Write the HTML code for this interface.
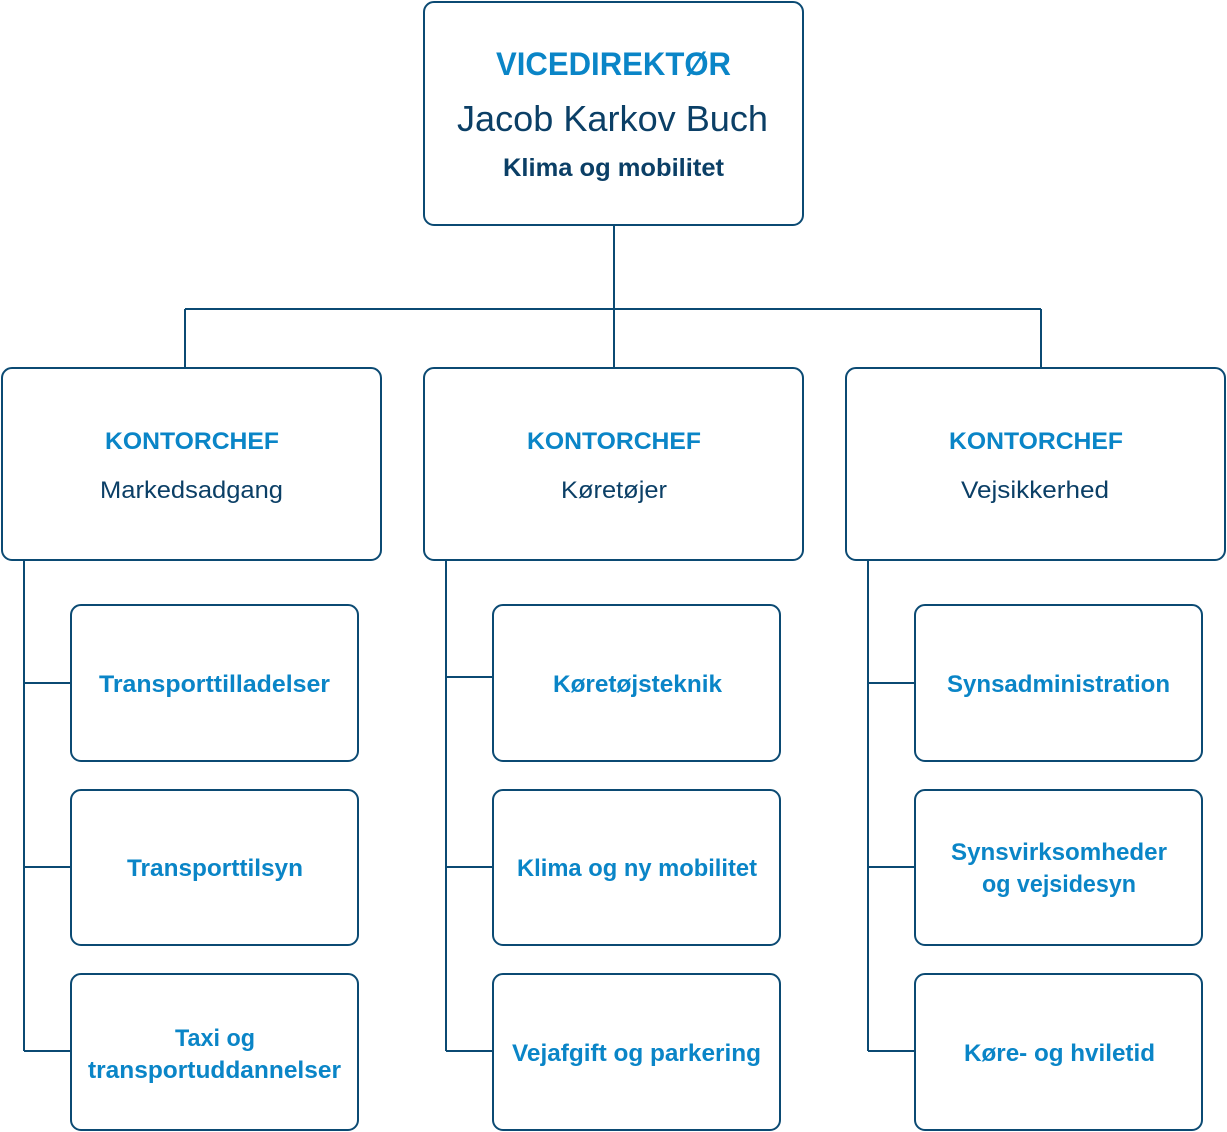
<!DOCTYPE html>
<html><head><meta charset="utf-8"><style>
html,body{margin:0;padding:0;background:#fff;}
svg{display:block;}
text{font-family:"Liberation Sans",sans-serif;}
.b{fill:#0a85c7;font-weight:bold;font-size:24px;}
.d{fill:#0b3f66;font-size:24px;}
</style></head><body>
<svg width="1227" height="1132" viewBox="0 0 1227 1132" xmlns="http://www.w3.org/2000/svg">
<g fill="none" stroke="#0b4a73" stroke-width="2">
<rect x="424" y="2" width="379" height="223" rx="10"/>
<path d="M614 225V367M185 309H1041M185 309V367M1041 309V367"/>
<rect x="2" y="368" width="379" height="192" rx="10"/>
<rect x="424" y="368" width="379" height="192" rx="10"/>
<rect x="846" y="368" width="379" height="192" rx="10"/>
<path d="M24 560V1051M24 683H71M24 867H71M24 1051H71"/>
<path d="M446 560V1051M446 677H493M446 867H493M446 1051H493"/>
<path d="M868 560V1051M868 683H915M868 867H915M868 1051H915"/>
<rect x="71" y="605" width="287" height="156" rx="10"/>
<rect x="71" y="790" width="287" height="155" rx="10"/>
<rect x="71" y="974" width="287" height="156" rx="10"/>
<rect x="493" y="605" width="287" height="156" rx="10"/>
<rect x="493" y="790" width="287" height="155" rx="10"/>
<rect x="493" y="974" width="287" height="156" rx="10"/>
<rect x="915" y="605" width="287" height="156" rx="10"/>
<rect x="915" y="790" width="287" height="155" rx="10"/>
<rect x="915" y="974" width="287" height="156" rx="10"/>
</g>
<g lengthAdjust="spacingAndGlyphs">
<text class="b" x="496" y="75" style="font-size:32px" textLength="235" lengthAdjust="spacingAndGlyphs">VICEDIREKTØR</text>
<text class="d" x="457" y="131" style="font-size:36px" textLength="311" lengthAdjust="spacingAndGlyphs">Jacob Karkov Buch</text>
<text class="d" x="503" y="176" style="font-size:25px;font-weight:bold" textLength="221" lengthAdjust="spacingAndGlyphs">Klima og mobilitet</text>

<text class="b" x="105" y="449" textLength="174" lengthAdjust="spacingAndGlyphs">KONTORCHEF</text>
<text class="b" x="527" y="449" textLength="174" lengthAdjust="spacingAndGlyphs">KONTORCHEF</text>
<text class="b" x="949" y="449" textLength="174" lengthAdjust="spacingAndGlyphs">KONTORCHEF</text>
<text class="d" x="100" y="498" textLength="183" lengthAdjust="spacingAndGlyphs">Markedsadgang</text>
<text class="d" x="561" y="498" textLength="106" lengthAdjust="spacingAndGlyphs">Køretøjer</text>
<text class="d" x="961" y="498" textLength="148" lengthAdjust="spacingAndGlyphs">Vejsikkerhed</text>

<text class="b" x="99" y="692" textLength="231" lengthAdjust="spacingAndGlyphs">Transporttilladelser</text>
<text class="b" x="127" y="876" textLength="176" lengthAdjust="spacingAndGlyphs">Transporttilsyn</text>
<text class="b" x="175" y="1046" textLength="80" lengthAdjust="spacingAndGlyphs">Taxi og</text>
<text class="b" x="88" y="1078" textLength="253" lengthAdjust="spacingAndGlyphs">transportuddannelser</text>

<text class="b" x="553" y="692" textLength="169" lengthAdjust="spacingAndGlyphs">Køretøjsteknik</text>
<text class="b" x="517" y="876" textLength="240" lengthAdjust="spacingAndGlyphs">Klima og ny mobilitet</text>
<text class="b" x="512" y="1061" textLength="249" lengthAdjust="spacingAndGlyphs">Vejafgift og parkering</text>

<text class="b" x="947" y="692" textLength="223" lengthAdjust="spacingAndGlyphs">Synsadministration</text>
<text class="b" x="951" y="860" textLength="216" lengthAdjust="spacingAndGlyphs">Synsvirksomheder</text>
<text class="b" x="982" y="892" textLength="154" lengthAdjust="spacingAndGlyphs">og vejsidesyn</text>
<text class="b" x="964" y="1061" textLength="191" lengthAdjust="spacingAndGlyphs">Køre- og hviletid</text>
</g>
</svg>
</body></html>
